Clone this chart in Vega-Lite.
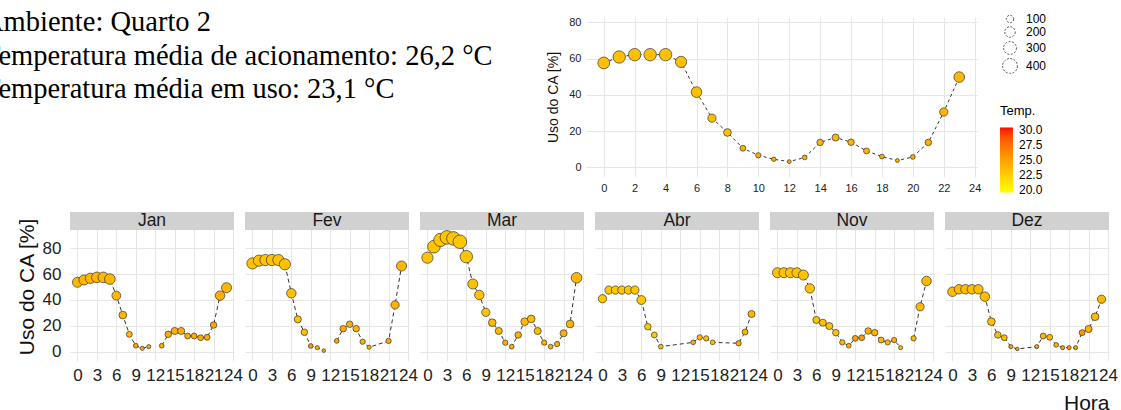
{
  "$schema": "https://vega.github.io/schema/vega-lite/v6.json",
  "background": "white",
  "padding": {"left": -17, "top": 8, "right": 0, "bottom": 0},
  "config": {
    "font": "Liberation Sans",
    "view": {"stroke": null},
    "axis": {"grid": true, "gridColor": "#e6e6e6", "gridWidth": 1, "domain": false, "ticks": false, "labelColor": "#222", "titleColor": "#111", "titleFontWeight": "normal", "labelOverlap": false, "labelFlush": false, "tickCount": 100, "format": "d"},
    "legend": {"padding": 0, "labelOverlap": false}
  },
  "datasets": {
    "texto": [
      {"linha": 1, "texto": "Ambiente: Quarto 2"},
      {"linha": 2, "texto": "Temperatura média de acionamento: 26,2 °C"},
      {"linha": 3, "texto": "Temperatura média em uso: 23,1 °C"}
    ],
    "geral": [
      {"hora": 0, "uso": 57.6, "n": 254, "temp": 23.3},
      {"hora": 1, "uso": 60.9, "n": 280, "temp": 23.3},
      {"hora": 2, "uso": 62.2, "n": 280, "temp": 23.3},
      {"hora": 3, "uso": 62.2, "n": 280, "temp": 23.3},
      {"hora": 4, "uso": 62.2, "n": 280, "temp": 23.3},
      {"hora": 5, "uso": 58.2, "n": 229, "temp": 23.3},
      {"hora": 6, "uso": 41.5, "n": 206, "temp": 23.5},
      {"hora": 7, "uso": 27.1, "n": 124, "temp": 23.4},
      {"hora": 8, "uso": 19.2, "n": 107, "temp": 23.5},
      {"hora": 9, "uso": 10.5, "n": 63, "temp": 24.0},
      {"hora": 10, "uso": 6.6, "n": 51, "temp": 24.3},
      {"hora": 11, "uso": 4.4, "n": 36, "temp": 24.2},
      {"hora": 12, "uso": 3.1, "n": 27, "temp": 24.6},
      {"hora": 13, "uso": 5.4, "n": 41, "temp": 24.3},
      {"hora": 14, "uso": 13.7, "n": 77, "temp": 24.1},
      {"hora": 15, "uso": 16.4, "n": 91, "temp": 24.0},
      {"hora": 16, "uso": 13.8, "n": 77, "temp": 24.0},
      {"hora": 17, "uso": 9.0, "n": 63, "temp": 23.9},
      {"hora": 18, "uso": 5.9, "n": 41, "temp": 24.3},
      {"hora": 19, "uso": 3.7, "n": 27, "temp": 24.4},
      {"hora": 20, "uso": 5.7, "n": 41, "temp": 24.4},
      {"hora": 21, "uso": 13.7, "n": 77, "temp": 24.3},
      {"hora": 22, "uso": 30.5, "n": 124, "temp": 24.0},
      {"hora": 23, "uso": 49.8, "n": 206, "temp": 23.8}
    ],
    "mensal": [
      {"mes": "Jan", "hora": 0, "uso": 53.6, "n": 183, "temp": 23.8},
      {"mes": "Jan", "hora": 1, "uso": 55.4, "n": 183, "temp": 23.8},
      {"mes": "Jan", "hora": 2, "uso": 56.7, "n": 194, "temp": 23.8},
      {"mes": "Jan", "hora": 3, "uso": 57.4, "n": 206, "temp": 23.8},
      {"mes": "Jan", "hora": 4, "uso": 57.4, "n": 206, "temp": 23.8},
      {"mes": "Jan", "hora": 5, "uso": 56.1, "n": 206, "temp": 23.8},
      {"mes": "Jan", "hora": 6, "uso": 43.3, "n": 143, "temp": 23.8},
      {"mes": "Jan", "hora": 7, "uso": 28.3, "n": 107, "temp": 23.9},
      {"mes": "Jan", "hora": 8, "uso": 13.4, "n": 63, "temp": 23.8},
      {"mes": "Jan", "hora": 9, "uso": 4.6, "n": 41, "temp": 25.2},
      {"mes": "Jan", "hora": 10, "uso": 2.6, "n": 31, "temp": 24.8},
      {"mes": "Jan", "hora": 11, "uso": 3.9, "n": 31, "temp": 24.8},
      {"mes": "Jan", "hora": 12, "uso": null, "n": null, "temp": null},
      {"mes": "Jan", "hora": 13, "uso": 4.6, "n": 41, "temp": 24.5},
      {"mes": "Jan", "hora": 14, "uso": 13.4, "n": 77, "temp": 24.5},
      {"mes": "Jan", "hora": 15, "uso": 16.0, "n": 91, "temp": 24.3},
      {"mes": "Jan", "hora": 16, "uso": 16.0, "n": 91, "temp": 24.3},
      {"mes": "Jan", "hora": 17, "uso": 12.1, "n": 63, "temp": 24.5},
      {"mes": "Jan", "hora": 18, "uso": 12.1, "n": 63, "temp": 24.5},
      {"mes": "Jan", "hora": 19, "uso": 10.8, "n": 63, "temp": 24.6},
      {"mes": "Jan", "hora": 20, "uso": 11.1, "n": 63, "temp": 24.6},
      {"mes": "Jan", "hora": 21, "uso": 20.6, "n": 77, "temp": 24.8},
      {"mes": "Jan", "hora": 22, "uso": 43.3, "n": 163, "temp": 24.3},
      {"mes": "Jan", "hora": 23, "uso": 49.4, "n": 183, "temp": 24.0},
      {"mes": "Fev", "hora": 0, "uso": 68.2, "n": 229, "temp": 23.2},
      {"mes": "Fev", "hora": 1, "uso": 70.3, "n": 229, "temp": 23.2},
      {"mes": "Fev", "hora": 2, "uso": 70.8, "n": 229, "temp": 23.2},
      {"mes": "Fev", "hora": 3, "uso": 70.8, "n": 229, "temp": 23.2},
      {"mes": "Fev", "hora": 4, "uso": 70.8, "n": 229, "temp": 23.2},
      {"mes": "Fev", "hora": 5, "uso": 67.5, "n": 229, "temp": 23.2},
      {"mes": "Fev", "hora": 6, "uso": 45.1, "n": 163, "temp": 23.3},
      {"mes": "Fev", "hora": 7, "uso": 25.0, "n": 91, "temp": 23.3},
      {"mes": "Fev", "hora": 8, "uso": 15.0, "n": 77, "temp": 23.5},
      {"mes": "Fev", "hora": 9, "uso": 4.4, "n": 41, "temp": 25.6},
      {"mes": "Fev", "hora": 10, "uso": 3.1, "n": 31, "temp": 24.3},
      {"mes": "Fev", "hora": 11, "uso": 0.8, "n": 23, "temp": 25.0},
      {"mes": "Fev", "hora": 12, "uso": null, "n": null, "temp": null},
      {"mes": "Fev", "hora": 13, "uso": 8.3, "n": 41, "temp": 24.8},
      {"mes": "Fev", "hora": 14, "uso": 17.8, "n": 77, "temp": 24.5},
      {"mes": "Fev", "hora": 15, "uso": 21.2, "n": 77, "temp": 24.2},
      {"mes": "Fev", "hora": 16, "uso": 17.8, "n": 77, "temp": 24.2},
      {"mes": "Fev", "hora": 17, "uso": 7.7, "n": 51, "temp": 24.3},
      {"mes": "Fev", "hora": 18, "uso": 3.4, "n": 31, "temp": 24.2},
      {"mes": "Fev", "hora": 21, "uso": 8.3, "n": 51, "temp": 24.6},
      {"mes": "Fev", "hora": 22, "uso": 36.1, "n": 124, "temp": 24.2},
      {"mes": "Fev", "hora": 23, "uso": 66.2, "n": 183, "temp": 23.8},
      {"mes": "Mar", "hora": 0, "uso": 72.6, "n": 229, "temp": 23.0},
      {"mes": "Mar", "hora": 1, "uso": 81.1, "n": 293, "temp": 23.0},
      {"mes": "Mar", "hora": 2, "uso": 86.3, "n": 321, "temp": 23.0},
      {"mes": "Mar", "hora": 3, "uso": 88.3, "n": 336, "temp": 23.0},
      {"mes": "Mar", "hora": 4, "uso": 87.5, "n": 336, "temp": 23.0},
      {"mes": "Mar", "hora": 5, "uso": 84.9, "n": 336, "temp": 23.0},
      {"mes": "Mar", "hora": 6, "uso": 73.4, "n": 280, "temp": 23.0},
      {"mes": "Mar", "hora": 7, "uso": 52.3, "n": 183, "temp": 23.2},
      {"mes": "Mar", "hora": 8, "uso": 43.8, "n": 163, "temp": 23.2},
      {"mes": "Mar", "hora": 9, "uso": 30.4, "n": 124, "temp": 23.2},
      {"mes": "Mar", "hora": 10, "uso": 22.4, "n": 107, "temp": 23.6},
      {"mes": "Mar", "hora": 11, "uso": 16.0, "n": 91, "temp": 23.9},
      {"mes": "Mar", "hora": 12, "uso": 7.0, "n": 51, "temp": 24.5},
      {"mes": "Mar", "hora": 13, "uso": 3.9, "n": 41, "temp": 24.3},
      {"mes": "Mar", "hora": 14, "uso": 12.9, "n": 77, "temp": 24.3},
      {"mes": "Mar", "hora": 15, "uso": 23.2, "n": 107, "temp": 23.6},
      {"mes": "Mar", "hora": 16, "uso": 25.3, "n": 107, "temp": 23.5},
      {"mes": "Mar", "hora": 17, "uso": 16.0, "n": 91, "temp": 23.7},
      {"mes": "Mar", "hora": 18, "uso": 7.0, "n": 51, "temp": 24.3},
      {"mes": "Mar", "hora": 19, "uso": 3.9, "n": 41, "temp": 24.4},
      {"mes": "Mar", "hora": 20, "uso": 5.9, "n": 51, "temp": 24.5},
      {"mes": "Mar", "hora": 21, "uso": 14.2, "n": 91, "temp": 24.2},
      {"mes": "Mar", "hora": 22, "uso": 21.4, "n": 107, "temp": 24.0},
      {"mes": "Mar", "hora": 23, "uso": 57.1, "n": 206, "temp": 23.9},
      {"mes": "Abr", "hora": 0, "uso": 40.9, "n": 124, "temp": 22.9},
      {"mes": "Abr", "hora": 1, "uso": 47.6, "n": 124, "temp": 22.9},
      {"mes": "Abr", "hora": 2, "uso": 47.6, "n": 124, "temp": 22.9},
      {"mes": "Abr", "hora": 3, "uso": 47.6, "n": 124, "temp": 22.9},
      {"mes": "Abr", "hora": 4, "uso": 47.6, "n": 124, "temp": 22.9},
      {"mes": "Abr", "hora": 5, "uso": 47.6, "n": 124, "temp": 22.9},
      {"mes": "Abr", "hora": 6, "uso": 39.9, "n": 143, "temp": 22.9},
      {"mes": "Abr", "hora": 7, "uso": 19.3, "n": 77, "temp": 22.7},
      {"mes": "Abr", "hora": 8, "uso": 12.9, "n": 63, "temp": 22.8},
      {"mes": "Abr", "hora": 9, "uso": 3.9, "n": 41, "temp": 23.4},
      {"mes": "Abr", "hora": 14, "uso": 7.2, "n": 41, "temp": 24.4},
      {"mes": "Abr", "hora": 15, "uso": 11.1, "n": 51, "temp": 23.7},
      {"mes": "Abr", "hora": 16, "uso": 10.3, "n": 51, "temp": 23.4},
      {"mes": "Abr", "hora": 17, "uso": 7.2, "n": 41, "temp": 23.5},
      {"mes": "Abr", "hora": 21, "uso": 6.5, "n": 51, "temp": 24.6},
      {"mes": "Abr", "hora": 22, "uso": 15.2, "n": 63, "temp": 24.1},
      {"mes": "Abr", "hora": 23, "uso": 29.1, "n": 91, "temp": 23.9},
      {"mes": "Nov", "hora": 0, "uso": 61.0, "n": 183, "temp": 23.2},
      {"mes": "Nov", "hora": 1, "uso": 61.0, "n": 183, "temp": 23.2},
      {"mes": "Nov", "hora": 2, "uso": 61.0, "n": 183, "temp": 23.2},
      {"mes": "Nov", "hora": 3, "uso": 61.0, "n": 183, "temp": 23.2},
      {"mes": "Nov", "hora": 4, "uso": 59.2, "n": 183, "temp": 23.2},
      {"mes": "Nov", "hora": 5, "uso": 48.9, "n": 163, "temp": 23.2},
      {"mes": "Nov", "hora": 6, "uso": 24.5, "n": 91, "temp": 23.2},
      {"mes": "Nov", "hora": 7, "uso": 22.4, "n": 91, "temp": 23.3},
      {"mes": "Nov", "hora": 8, "uso": 19.8, "n": 91, "temp": 23.2},
      {"mes": "Nov", "hora": 9, "uso": 14.7, "n": 77, "temp": 23.3},
      {"mes": "Nov", "hora": 10, "uso": 7.2, "n": 51, "temp": 24.0},
      {"mes": "Nov", "hora": 11, "uso": 4.6, "n": 41, "temp": 24.4},
      {"mes": "Nov", "hora": 12, "uso": 10.3, "n": 63, "temp": 25.4},
      {"mes": "Nov", "hora": 13, "uso": 10.8, "n": 63, "temp": 25.4},
      {"mes": "Nov", "hora": 14, "uso": 16.0, "n": 77, "temp": 24.2},
      {"mes": "Nov", "hora": 15, "uso": 14.7, "n": 77, "temp": 24.2},
      {"mes": "Nov", "hora": 16, "uso": 9.0, "n": 63, "temp": 24.0},
      {"mes": "Nov", "hora": 17, "uso": 7.2, "n": 51, "temp": 24.1},
      {"mes": "Nov", "hora": 18, "uso": 9.0, "n": 51, "temp": 24.2},
      {"mes": "Nov", "hora": 19, "uso": 3.1, "n": 31, "temp": 23.4},
      {"mes": "Nov", "hora": 20, "uso": null, "n": null, "temp": null},
      {"mes": "Nov", "hora": 21, "uso": 10.3, "n": 51, "temp": 23.8},
      {"mes": "Nov", "hora": 22, "uso": 34.7, "n": 124, "temp": 23.7},
      {"mes": "Nov", "hora": 23, "uso": 54.6, "n": 163, "temp": 23.8},
      {"mes": "Dez", "hora": 0, "uso": 46.3, "n": 163, "temp": 23.5},
      {"mes": "Dez", "hora": 1, "uso": 48.2, "n": 163, "temp": 23.5},
      {"mes": "Dez", "hora": 2, "uso": 48.2, "n": 163, "temp": 23.5},
      {"mes": "Dez", "hora": 3, "uso": 48.2, "n": 163, "temp": 23.5},
      {"mes": "Dez", "hora": 4, "uso": 48.2, "n": 163, "temp": 23.5},
      {"mes": "Dez", "hora": 5, "uso": 42.5, "n": 163, "temp": 23.5},
      {"mes": "Dez", "hora": 6, "uso": 23.2, "n": 107, "temp": 23.3},
      {"mes": "Dez", "hora": 7, "uso": 12.9, "n": 77, "temp": 23.6},
      {"mes": "Dez", "hora": 8, "uso": 10.8, "n": 63, "temp": 23.6},
      {"mes": "Dez", "hora": 9, "uso": 3.9, "n": 31, "temp": 25.4},
      {"mes": "Dez", "hora": 10, "uso": 2.1, "n": 23, "temp": 25.5},
      {"mes": "Dez", "hora": 13, "uso": 3.9, "n": 31, "temp": 25.4},
      {"mes": "Dez", "hora": 14, "uso": 12.1, "n": 63, "temp": 23.9},
      {"mes": "Dez", "hora": 15, "uso": 11.1, "n": 63, "temp": 23.9},
      {"mes": "Dez", "hora": 16, "uso": 5.2, "n": 41, "temp": 24.2},
      {"mes": "Dez", "hora": 17, "uso": 3.1, "n": 31, "temp": 25.3},
      {"mes": "Dez", "hora": 18, "uso": 3.1, "n": 31, "temp": 25.4},
      {"mes": "Dez", "hora": 19, "uso": 3.1, "n": 31, "temp": 25.4},
      {"mes": "Dez", "hora": 20, "uso": 14.7, "n": 63, "temp": 25.6},
      {"mes": "Dez", "hora": 21, "uso": 17.5, "n": 91, "temp": 24.3},
      {"mes": "Dez", "hora": 22, "uso": 27.0, "n": 107, "temp": 23.8},
      {"mes": "Dez", "hora": 23, "uso": 40.5, "n": 124, "temp": 24.0}
    ]
  },
  "vconcat": [
    {
      "bounds": "flush",
      "spacing": 16,
      "resolve": {"scale": {"x": "independent", "y": "independent", "color": "independent", "size": "independent"}},
      "hconcat": [
        {
          "width": 500,
          "height": 160,
          "data": {"name": "texto"},
          "mark": {"type": "text", "font": "Liberation Serif", "fontSize": 28.5, "align": "left", "baseline": "alphabetic", "dx": -87, "color": "#000"},
          "encoding": {
            "x": {"datum": 0, "type": "quantitative", "scale": {"domain": [0, 1]}, "axis": null},
            "y": {"field": "linha", "type": "quantitative", "scale": {"domain": [0.58, 5.356], "reverse": true, "nice": false, "zero": false}, "axis": null},
            "text": {"field": "texto"}
          }
        },
        {
          "width": 391,
          "height": 160,
          "data": {"name": "geral"},
          "encoding": {
            "x": {"field": "hora", "type": "quantitative", "scale": {"domain": [-1.15, 24.15], "nice": false, "zero": false}, "axis": {"values": [0, 2, 4, 6, 8, 10, 12, 14, 16, 18, 20, 22, 24], "tickCount": 100, "format": "d", "title": null, "labelFontSize": 11, "labelFlush": false, "labelOverlap": false, "labelPadding": 5}},
            "y": {"field": "uso", "type": "quantitative", "scale": {"domain": [-5.4, 83], "nice": false, "zero": false}, "axis": {"values": [0, 20, 40, 60, 80], "tickCount": 100, "format": "d", "title": "Uso do CA [%]", "titleFontSize": 14, "labelFontSize": 11, "labelPadding": 5, "titlePadding": 8, "labelOverlap": false}}
          },
          "layer": [
            {
              "mark": {"type": "line", "color": "#333", "strokeWidth": 1, "strokeDash": [3, 3]}
            },
            {
              "mark": {"type": "circle", "opacity": 1, "stroke": "#333", "strokeWidth": 0.7},
              "encoding": {
                "size": {"field": "n", "type": "quantitative", "scale": {"domain": [0, 400], "range": [0, 220]},
                  "legend": {"orient": "none", "legendX": 416, "legendY": -4, "title": null, "values": [100, 200, 300, 400], "labelFontSize": 12, "labelOffset": 8, "rowPadding": -1,
                    "symbolType": "circle", "symbolFillColor": "white", "symbolStrokeColor": "#555", "symbolDash": [2, 1.5], "symbolStrokeWidth": 1,
                    "encode": {"symbols": {"update": {"fill": {"value": "white"}, "stroke": {"value": "#555"}, "strokeDash": {"value": [2, 1.5]}, "strokeWidth": {"value": 1}, "opacity": {"value": 1}}}}}},
                "color": {"field": "temp", "type": "quantitative", "scale": {"domain": [19.6, 30.4], "range": ["#ffff00", "#ff0000"], "interpolate": "lab"},
                  "legend": {"orient": "none", "legendX": 414, "legendY": 88, "direction": "vertical", "title": "Temp.", "titleFontSize": 13, "titleFontWeight": "normal", "titlePadding": 9.5, "values": [20, 22.5, 25, 27.5, 30], "format": ".1f", "labelFontSize": 12, "labelOffset": 6, "labelOverlap": false, "gradientLength": 65, "gradientThickness": 13, "gradientStrokeWidth": 0}}
              }
            }
          ]
        }
      ]
    },
    {
      "bounds": "flush",
      "spacing": 11,
      "resolve": {"scale": {"x": "independent", "y": "independent"}},
      "hconcat": [
        {
          "width": 164, "height": 149,
          "layer": [
            {"data": {"values": [{"mes": "Jan"}]}, "mark": {"type": "rect", "color": "#d1d1d1"},
             "encoding": {"x": {"datum": -1.15, "type": "quantitative"}, "x2": {"datum": 24.15}, "y": {"datum": 94, "type": "quantitative"}, "y2": {"datum": 107.9}}},
            {"data": {"values": [{"mes": "Jan"}]}, "mark": {"type": "text", "fontSize": 17.5, "color": "#1a1a1a", "baseline": "middle"},
             "encoding": {"x": {"datum": 11.5, "type": "quantitative"}, "y": {"datum": 100.9, "type": "quantitative"}, "text": {"field": "mes"}}},
            {"data": {"name": "mensal"}, "transform": [{"filter": "datum.mes === 'Jan'"}],
             "mark": {"type": "line", "color": "#333", "strokeWidth": 1, "strokeDash": [4, 3], "invalid": "break-paths-filter-domains"},
             "encoding": {
               "x": {"field": "hora", "type": "quantitative", "scale": {"domain": [-1.15, 24.15], "nice": false, "zero": false}, "axis": {"values": [0, 3, 6, 9, 12, 15, 18, 21, 24], "tickCount": 100, "format": "d", "title": null, "labelFontSize": 17, "labelFlush": false, "labelOverlap": false, "labelPadding": 6}},
               "y": {"field": "uso", "type": "quantitative", "scale": {"domain": [-7.2, 107.9], "nice": false, "zero": false}, "axis": {"values": [0, 20, 40, 60, 80], "tickCount": 100, "format": "d", "title": "Uso do CA [%]", "titleFontSize": 21, "labelFontSize": 17, "labelPadding": 9, "titlePadding": 5, "labelOverlap": false}}
             }},
            {"data": {"name": "mensal"}, "transform": [{"filter": "datum.mes === 'Jan'"}],
             "mark": {"type": "circle", "opacity": 1, "stroke": "#333", "strokeWidth": 0.7},
             "encoding": {
               "x": {"field": "hora", "type": "quantitative"},
               "y": {"field": "uso", "type": "quantitative"},
               "size": {"field": "n", "type": "quantitative", "scale": {"domain": [0, 400], "range": [0, 220]}, "legend": null},
               "color": {"field": "temp", "type": "quantitative", "scale": {"domain": [19.6, 30.4], "range": ["#ffff00", "#ff0000"], "interpolate": "lab"}, "legend": null}
             }}
          ]
        },
        {
          "width": 164, "height": 149,
          "layer": [
            {"data": {"values": [{"mes": "Fev"}]}, "mark": {"type": "rect", "color": "#d1d1d1"},
             "encoding": {"x": {"datum": -1.15, "type": "quantitative"}, "x2": {"datum": 24.15}, "y": {"datum": 94, "type": "quantitative"}, "y2": {"datum": 107.9}}},
            {"data": {"values": [{"mes": "Fev"}]}, "mark": {"type": "text", "fontSize": 17.5, "color": "#1a1a1a", "baseline": "middle"},
             "encoding": {"x": {"datum": 11.5, "type": "quantitative"}, "y": {"datum": 100.9, "type": "quantitative"}, "text": {"field": "mes"}}},
            {"data": {"name": "mensal"}, "transform": [{"filter": "datum.mes === 'Fev'"}],
             "mark": {"type": "line", "color": "#333", "strokeWidth": 1, "strokeDash": [4, 3], "invalid": "break-paths-filter-domains"},
             "encoding": {
               "x": {"field": "hora", "type": "quantitative", "scale": {"domain": [-1.15, 24.15], "nice": false, "zero": false}, "axis": {"values": [0, 3, 6, 9, 12, 15, 18, 21, 24], "tickCount": 100, "format": "d", "title": null, "labelFontSize": 17, "labelFlush": false, "labelOverlap": false, "labelPadding": 6}},
               "y": {"field": "uso", "type": "quantitative", "scale": {"domain": [-7.2, 107.9], "nice": false, "zero": false}, "axis": {"values": [0, 20, 40, 60, 80], "tickCount": 100, "title": null, "labels": false}}
             }},
            {"data": {"name": "mensal"}, "transform": [{"filter": "datum.mes === 'Fev'"}],
             "mark": {"type": "circle", "opacity": 1, "stroke": "#333", "strokeWidth": 0.7},
             "encoding": {
               "x": {"field": "hora", "type": "quantitative"},
               "y": {"field": "uso", "type": "quantitative"},
               "size": {"field": "n", "type": "quantitative", "scale": {"domain": [0, 400], "range": [0, 220]}, "legend": null},
               "color": {"field": "temp", "type": "quantitative", "scale": {"domain": [19.6, 30.4], "range": ["#ffff00", "#ff0000"], "interpolate": "lab"}, "legend": null}
             }}
          ]
        },
        {
          "width": 164, "height": 149,
          "layer": [
            {"data": {"values": [{"mes": "Mar"}]}, "mark": {"type": "rect", "color": "#d1d1d1"},
             "encoding": {"x": {"datum": -1.15, "type": "quantitative"}, "x2": {"datum": 24.15}, "y": {"datum": 94, "type": "quantitative"}, "y2": {"datum": 107.9}}},
            {"data": {"values": [{"mes": "Mar"}]}, "mark": {"type": "text", "fontSize": 17.5, "color": "#1a1a1a", "baseline": "middle"},
             "encoding": {"x": {"datum": 11.5, "type": "quantitative"}, "y": {"datum": 100.9, "type": "quantitative"}, "text": {"field": "mes"}}},
            {"data": {"name": "mensal"}, "transform": [{"filter": "datum.mes === 'Mar'"}],
             "mark": {"type": "line", "color": "#333", "strokeWidth": 1, "strokeDash": [4, 3], "invalid": "break-paths-filter-domains"},
             "encoding": {
               "x": {"field": "hora", "type": "quantitative", "scale": {"domain": [-1.15, 24.15], "nice": false, "zero": false}, "axis": {"values": [0, 3, 6, 9, 12, 15, 18, 21, 24], "tickCount": 100, "format": "d", "title": null, "labelFontSize": 17, "labelFlush": false, "labelOverlap": false, "labelPadding": 6}},
               "y": {"field": "uso", "type": "quantitative", "scale": {"domain": [-7.2, 107.9], "nice": false, "zero": false}, "axis": {"values": [0, 20, 40, 60, 80], "tickCount": 100, "title": null, "labels": false}}
             }},
            {"data": {"name": "mensal"}, "transform": [{"filter": "datum.mes === 'Mar'"}],
             "mark": {"type": "circle", "opacity": 1, "stroke": "#333", "strokeWidth": 0.7},
             "encoding": {
               "x": {"field": "hora", "type": "quantitative"},
               "y": {"field": "uso", "type": "quantitative"},
               "size": {"field": "n", "type": "quantitative", "scale": {"domain": [0, 400], "range": [0, 220]}, "legend": null},
               "color": {"field": "temp", "type": "quantitative", "scale": {"domain": [19.6, 30.4], "range": ["#ffff00", "#ff0000"], "interpolate": "lab"}, "legend": null}
             }}
          ]
        },
        {
          "width": 164, "height": 149,
          "layer": [
            {"data": {"values": [{"mes": "Abr"}]}, "mark": {"type": "rect", "color": "#d1d1d1"},
             "encoding": {"x": {"datum": -1.15, "type": "quantitative"}, "x2": {"datum": 24.15}, "y": {"datum": 94, "type": "quantitative"}, "y2": {"datum": 107.9}}},
            {"data": {"values": [{"mes": "Abr"}]}, "mark": {"type": "text", "fontSize": 17.5, "color": "#1a1a1a", "baseline": "middle"},
             "encoding": {"x": {"datum": 11.5, "type": "quantitative"}, "y": {"datum": 100.9, "type": "quantitative"}, "text": {"field": "mes"}}},
            {"data": {"name": "mensal"}, "transform": [{"filter": "datum.mes === 'Abr'"}],
             "mark": {"type": "line", "color": "#333", "strokeWidth": 1, "strokeDash": [4, 3], "invalid": "break-paths-filter-domains"},
             "encoding": {
               "x": {"field": "hora", "type": "quantitative", "scale": {"domain": [-1.15, 24.15], "nice": false, "zero": false}, "axis": {"values": [0, 3, 6, 9, 12, 15, 18, 21, 24], "tickCount": 100, "format": "d", "title": null, "labelFontSize": 17, "labelFlush": false, "labelOverlap": false, "labelPadding": 6}},
               "y": {"field": "uso", "type": "quantitative", "scale": {"domain": [-7.2, 107.9], "nice": false, "zero": false}, "axis": {"values": [0, 20, 40, 60, 80], "tickCount": 100, "title": null, "labels": false}}
             }},
            {"data": {"name": "mensal"}, "transform": [{"filter": "datum.mes === 'Abr'"}],
             "mark": {"type": "circle", "opacity": 1, "stroke": "#333", "strokeWidth": 0.7},
             "encoding": {
               "x": {"field": "hora", "type": "quantitative"},
               "y": {"field": "uso", "type": "quantitative"},
               "size": {"field": "n", "type": "quantitative", "scale": {"domain": [0, 400], "range": [0, 220]}, "legend": null},
               "color": {"field": "temp", "type": "quantitative", "scale": {"domain": [19.6, 30.4], "range": ["#ffff00", "#ff0000"], "interpolate": "lab"}, "legend": null}
             }}
          ]
        },
        {
          "width": 164, "height": 149,
          "layer": [
            {"data": {"values": [{"mes": "Nov"}]}, "mark": {"type": "rect", "color": "#d1d1d1"},
             "encoding": {"x": {"datum": -1.15, "type": "quantitative"}, "x2": {"datum": 24.15}, "y": {"datum": 94, "type": "quantitative"}, "y2": {"datum": 107.9}}},
            {"data": {"values": [{"mes": "Nov"}]}, "mark": {"type": "text", "fontSize": 17.5, "color": "#1a1a1a", "baseline": "middle"},
             "encoding": {"x": {"datum": 11.5, "type": "quantitative"}, "y": {"datum": 100.9, "type": "quantitative"}, "text": {"field": "mes"}}},
            {"data": {"name": "mensal"}, "transform": [{"filter": "datum.mes === 'Nov'"}],
             "mark": {"type": "line", "color": "#333", "strokeWidth": 1, "strokeDash": [4, 3], "invalid": "break-paths-filter-domains"},
             "encoding": {
               "x": {"field": "hora", "type": "quantitative", "scale": {"domain": [-1.15, 24.15], "nice": false, "zero": false}, "axis": {"values": [0, 3, 6, 9, 12, 15, 18, 21, 24], "tickCount": 100, "format": "d", "title": null, "labelFontSize": 17, "labelFlush": false, "labelOverlap": false, "labelPadding": 6}},
               "y": {"field": "uso", "type": "quantitative", "scale": {"domain": [-7.2, 107.9], "nice": false, "zero": false}, "axis": {"values": [0, 20, 40, 60, 80], "tickCount": 100, "title": null, "labels": false}}
             }},
            {"data": {"name": "mensal"}, "transform": [{"filter": "datum.mes === 'Nov'"}],
             "mark": {"type": "circle", "opacity": 1, "stroke": "#333", "strokeWidth": 0.7},
             "encoding": {
               "x": {"field": "hora", "type": "quantitative"},
               "y": {"field": "uso", "type": "quantitative"},
               "size": {"field": "n", "type": "quantitative", "scale": {"domain": [0, 400], "range": [0, 220]}, "legend": null},
               "color": {"field": "temp", "type": "quantitative", "scale": {"domain": [19.6, 30.4], "range": ["#ffff00", "#ff0000"], "interpolate": "lab"}, "legend": null}
             }}
          ]
        },
        {
          "width": 164, "height": 149,
          "layer": [
            {"data": {"values": [{"mes": "Dez"}]}, "mark": {"type": "rect", "color": "#d1d1d1"},
             "encoding": {"x": {"datum": -1.15, "type": "quantitative"}, "x2": {"datum": 24.15}, "y": {"datum": 94, "type": "quantitative"}, "y2": {"datum": 107.9}}},
            {"data": {"values": [{"mes": "Dez"}]}, "mark": {"type": "text", "fontSize": 17.5, "color": "#1a1a1a", "baseline": "middle"},
             "encoding": {"x": {"datum": 11.5, "type": "quantitative"}, "y": {"datum": 100.9, "type": "quantitative"}, "text": {"field": "mes"}}},
            {"data": {"name": "mensal"}, "transform": [{"filter": "datum.mes === 'Dez'"}],
             "mark": {"type": "line", "color": "#333", "strokeWidth": 1, "strokeDash": [4, 3], "invalid": "break-paths-filter-domains"},
             "encoding": {
               "x": {"field": "hora", "type": "quantitative", "scale": {"domain": [-1.15, 24.15], "nice": false, "zero": false}, "axis": {"values": [0, 3, 6, 9, 12, 15, 18, 21, 24], "tickCount": 100, "format": "d", "title": "Hora", "titleFontSize": 21, "titleAnchor": "end", "titlePadding": 9, "labelFontSize": 17, "labelFlush": false, "labelOverlap": false, "labelPadding": 6}},
               "y": {"field": "uso", "type": "quantitative", "scale": {"domain": [-7.2, 107.9], "nice": false, "zero": false}, "axis": {"values": [0, 20, 40, 60, 80], "tickCount": 100, "title": null, "labels": false}}
             }},
            {"data": {"name": "mensal"}, "transform": [{"filter": "datum.mes === 'Dez'"}],
             "mark": {"type": "circle", "opacity": 1, "stroke": "#333", "strokeWidth": 0.7},
             "encoding": {
               "x": {"field": "hora", "type": "quantitative"},
               "y": {"field": "uso", "type": "quantitative"},
               "size": {"field": "n", "type": "quantitative", "scale": {"domain": [0, 400], "range": [0, 220]}, "legend": null},
               "color": {"field": "temp", "type": "quantitative", "scale": {"domain": [19.6, 30.4], "range": ["#ffff00", "#ff0000"], "interpolate": "lab"}, "legend": null}
             }}
          ]
        }
      ]
    }
  ],
  "bounds": "flush",
  "spacing": 195,
  "resolve": {"scale": {"x": "independent", "y": "independent", "color": "independent", "size": "independent"}}
}
